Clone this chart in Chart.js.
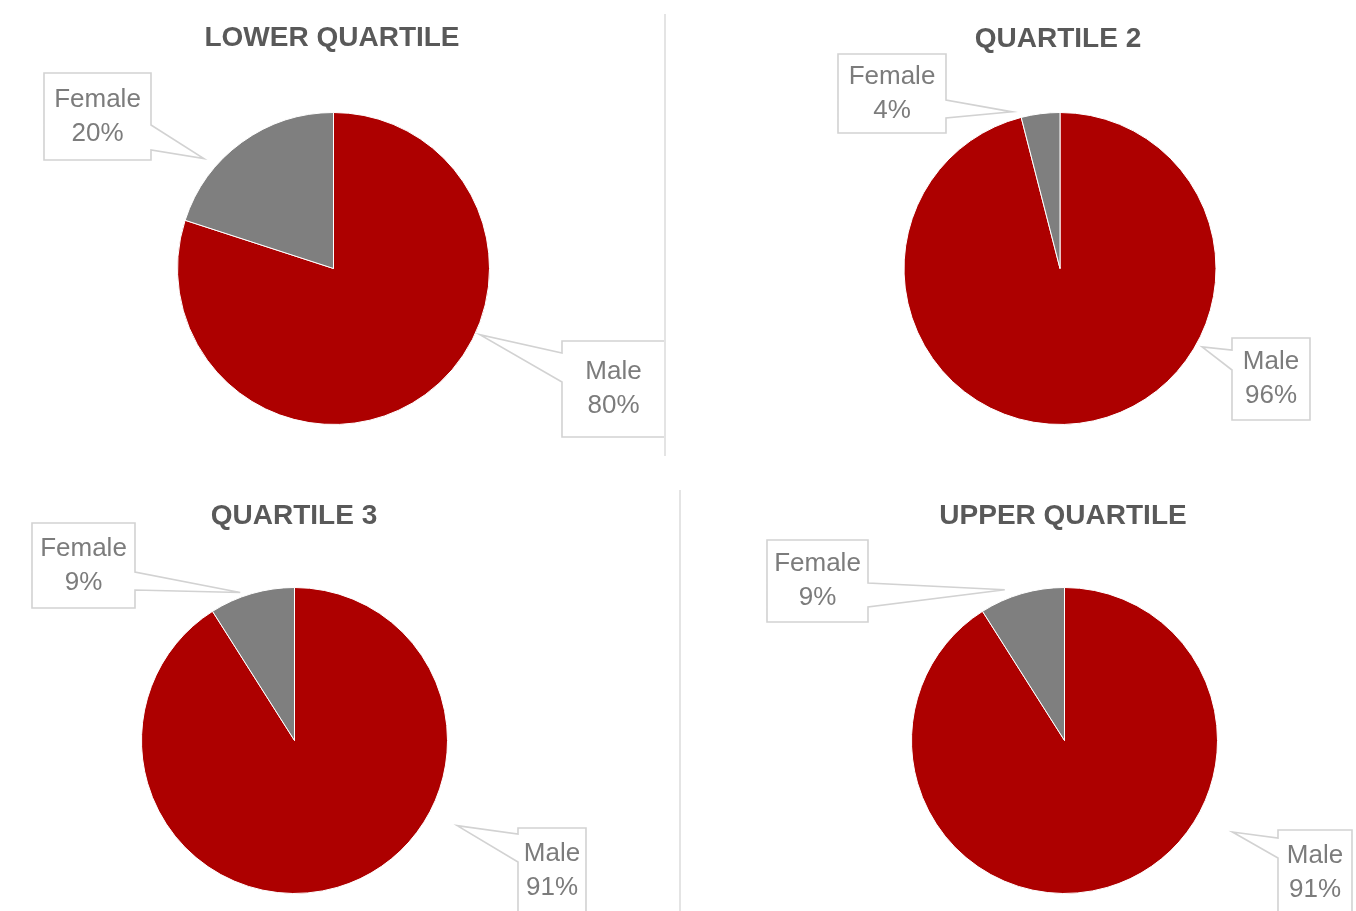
<!DOCTYPE html>
<html>
<head>
<meta charset="utf-8">
<title>Gender split by pay quartile</title>
<script src="https://cdn.jsdelivr.net/npm/chart.js@4.4.1/dist/chart.umd.min.js"></script>
<style>
  html, body { margin: 0; padding: 0; background: #ffffff; }
  #page { position: relative; width: 1356px; height: 911px; overflow: hidden; background: #ffffff; }
  canvas.q { position: absolute; }
  .rule { position: absolute; width: 2px; background: #e4e4e4; }
</style>
</head>
<body>
<div id="page">
  <canvas id="c0" class="q"></canvas>
  <canvas id="c1" class="q"></canvas>
  <canvas id="c2" class="q"></canvas>
  <canvas id="c3" class="q"></canvas>
  <div class="rule" style="left:664px;top:14px;height:442px;"></div>
  <div class="rule" style="left:679px;top:490px;height:421px;"></div>
</div>
<script>
// ---- data ----
const categories = ['Male', 'Female'];
const quartileTitles = ['LOWER QUARTILE', 'QUARTILE 2', 'QUARTILE 3', 'UPPER QUARTILE'];
const maleShare = [80, 96, 91, 91];
const femaleShare = [20, 4, 9, 9];

// ---- styling ----
const sliceColors = ['#AD0000', '#7F7F7F'];
const titleFont = 'bold 28px "Liberation Sans", Arial, sans-serif';
const labelFont = '26px "Liberation Sans", Arial, sans-serif';
const titleColor = '#595959';
const labelColor = '#7c7c7c';
const calloutBorder = '#d2d2d2';

// ---- panel layout (page pixels) ----
// callout: box rect, side the pointer leaves from, pointer base (y1,y2),
// tip placed along the slice at fraction `frac` of its sweep, at `rf` x radius
const panels = [
  { canvas: [0, 0, 678, 460], center: [333.5, 268.5], radius: 156, title: [332, 38],
    callouts: [
      { slice: 0, box: [562, 341, 103, 96], side: 'left',  y1: 353, y2: 382, frac: 0.397, rf: 1.03 },
      { slice: 1, box: [44, 73, 107, 87],   side: 'right', y1: 125, y2: 150, frac: 0.31,  rf: 1.09 }
    ] },
  { canvas: [678, 0, 678, 460], center: [1060, 268.5], radius: 156, title: [1058, 39],
    callouts: [
      { slice: 0, box: [1232, 338, 78, 82], side: 'left',  y1: 350, y2: 370, frac: 0.344, rf: 1.04 },
      { slice: 1, box: [838, 54, 108, 79],  side: 'right', y1: 100, y2: 118, frac: -0.18, rf: 1.05 }
    ] },
  { canvas: [0, 460, 678, 451], center: [294.5, 740.5], radius: 153, title: [294, 516],
    callouts: [
      { slice: 0, box: [518, 828, 68, 85],  side: 'left',  y1: 834, y2: 862, frac: 0.359, rf: 1.20 },
      { slice: 1, box: [32, 523, 103, 85],  side: 'right', y1: 572, y2: 590, frac: 0.378, rf: 1.03 }
    ] },
  { canvas: [678, 460, 678, 451], center: [1064.5, 740.5], radius: 153, title: [1063, 516],
    callouts: [
      { slice: 0, box: [1278, 830, 74, 86], side: 'left',  y1: 838, y2: 858, frac: 0.362, rf: 1.25 },
      { slice: 1, box: [767, 540, 101, 82], side: 'right', y1: 583, y2: 607, frac: 0.333, rf: 1.06 }
    ] }
];

// Title and wedge-shaped data callouts drawn on top of each pie
const calloutPlugin = {
  id: 'quartileCallouts',
  afterDraw(chart, args, opts) {
    const ctx = chart.ctx;
    const panel = opts.panel;
    const ox = panel.canvas[0], oy = panel.canvas[1];
    const meta = chart.getDatasetMeta(0);
    const values = chart.data.datasets[0].data;
    const labels = chart.data.labels;

    ctx.save();
    ctx.translate(-ox, -oy);

    // title
    ctx.font = titleFont;
    ctx.fillStyle = titleColor;
    ctx.textAlign = 'center';
    ctx.textBaseline = 'middle';
    ctx.fillText(opts.title, panel.title[0], panel.title[1]);

    panel.callouts.forEach(c => {
      const arc = meta.data[c.slice];
      const p = arc.getProps(['x', 'y', 'startAngle', 'endAngle', 'outerRadius'], true);
      const a = p.startAngle + c.frac * (p.endAngle - p.startAngle);
      const tx = p.x + ox + Math.cos(a) * p.outerRadius * c.rf;
      const ty = p.y + oy + Math.sin(a) * p.outerRadius * c.rf;
      const [bx, by, bw, bh] = c.box;

      ctx.beginPath();
      if (c.side === 'right') {
        ctx.moveTo(bx, by);
        ctx.lineTo(bx + bw, by);
        ctx.lineTo(bx + bw, c.y1);
        ctx.lineTo(tx, ty);
        ctx.lineTo(bx + bw, c.y2);
        ctx.lineTo(bx + bw, by + bh);
        ctx.lineTo(bx, by + bh);
      } else {
        ctx.moveTo(bx, by);
        ctx.lineTo(bx + bw, by);
        ctx.lineTo(bx + bw, by + bh);
        ctx.lineTo(bx, by + bh);
        ctx.lineTo(bx, c.y2);
        ctx.lineTo(tx, ty);
        ctx.lineTo(bx, c.y1);
      }
      ctx.closePath();
      ctx.fillStyle = '#ffffff';
      ctx.fill();
      ctx.lineWidth = 1.6;
      ctx.strokeStyle = calloutBorder;
      ctx.lineJoin = 'miter';
      ctx.stroke();

      ctx.font = labelFont;
      ctx.fillStyle = labelColor;
      ctx.textAlign = 'center';
      ctx.textBaseline = 'middle';
      const cx = bx + bw / 2, cy = by + bh / 2;
      ctx.fillText(labels[c.slice], cx, cy - 17);
      ctx.fillText(values[c.slice] + '%', cx, cy + 17);
    });
    ctx.restore();
  }
};

panels.forEach((panel, i) => {
  const el = document.getElementById('c' + i);
  const [left, top, w, h] = panel.canvas;
  el.width = w; el.height = h;
  el.style.left = left + 'px';
  el.style.top = top + 'px';
  el.style.width = w + 'px';
  el.style.height = h + 'px';

  // padding that centres the chart area on the pie centre
  const lx = panel.center[0] - left, ly = panel.center[1] - top;
  const dx = 2 * lx - w, dy = 2 * ly - h;
  const padding = {
    left: dx > 0 ? dx : 0, right: dx < 0 ? -dx : 0,
    top: dy > 0 ? dy : 0, bottom: dy < 0 ? -dy : 0
  };

  new Chart(el, {
    type: 'pie',
    data: {
      labels: categories,
      datasets: [{
        data: [maleShare[i], femaleShare[i]],
        backgroundColor: sliceColors,
        borderColor: '#ffffff',
        borderWidth: 1
      }]
    },
    options: {
      responsive: false,
      animation: false,
      radius: panel.radius,
      layout: { padding },
      plugins: {
        legend: { display: false },
        tooltip: { enabled: false },
        quartileCallouts: { panel, title: quartileTitles[i] }
      }
    },
    plugins: [calloutPlugin]
  });
});
</script>
</body>
</html>
